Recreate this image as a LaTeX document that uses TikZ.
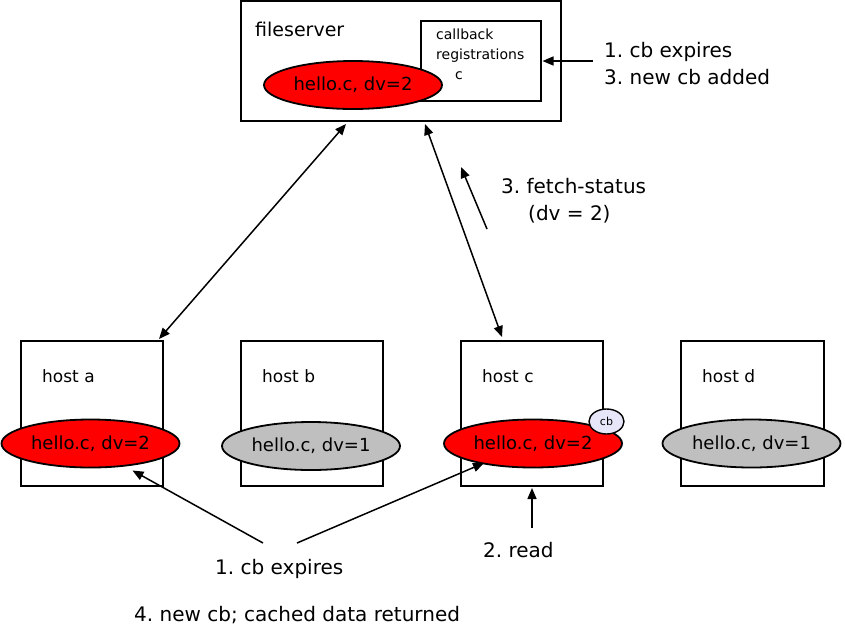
\documentclass[tikz,border=0pt]{standalone}
\usepackage{fontspec}
\setmainfont{DejaVu Sans}
\usetikzlibrary{shapes.geometric,arrows.meta,positioning}

\definecolor{cachered}{HTML}{FF0000}
\definecolor{cachegray}{HTML}{BFBFBF}
\definecolor{cbfill}{HTML}{E6E6F8}

\begin{document}
\frenchspacing
\begin{tikzpicture}[x=1pt,y=-1pt]
                \tikzset{Box/.style={draw,line width=2.2pt,inner sep=0pt,outer sep=0pt,anchor=north west},
                         File/.style={ellipse,draw,line width=1.8pt,minimum width=178pt,minimum height=48pt,inner sep=0pt,outer sep=0pt,font=\fontsize{18}{20}\selectfont},
                         NewFile/.style={File,fill=cachered},
                         OldFile/.style={File,fill=cachegray},
                         Label/.style={anchor=base west,inner sep=0pt,font=\fontsize{20}{24}\selectfont},
                         HostLabel/.style={anchor=base west,inner sep=0pt,font=\fontsize{17}{20}\selectfont},
                         Msg/.style={-{Triangle[length=11pt,width=9pt]},line width=1.5pt},
                         BiMsg/.style={{Triangle[length=11pt,width=9pt]}-{Triangle[length=11pt,width=9pt]},line width=1.5pt}}
                \useasboundingbox (0,0) rectangle (845,638);
                % server
                \node[Box,minimum width=320pt,minimum height=120pt] (fs) at (241,1) {};
                \node[anchor=base west,inner sep=0pt,font=\fontsize{19}{22}\selectfont] (fsname) at (255,36) {fileserver};
                \node[Box,minimum width=120pt,minimum height=80pt] (cbreg) at (421,21) {};
                \node[anchor=base west,inner sep=0pt,font=\fontsize{14}{16}\selectfont] (cbreg1) at (436,39) {callback};
                \node[anchor=base west,inner sep=0pt,font=\fontsize{14}{16}\selectfont] (cbreg2) at (436,59) {registrations};
                \node[anchor=base west,inner sep=0pt,font=\fontsize{14}{16}\selectfont] (cbreg3) at (455,79) {c};
                \node[NewFile] (ffs) at (353,85) {hello.c, dv=2};
                % hosts
                \node[Box,minimum width=142pt,minimum height=145pt] (ha) at (21,341) {};
                \node[Box,minimum width=142pt,minimum height=145pt] (hb) at (241,341) {};
                \node[Box,minimum width=142pt,minimum height=145pt] (hc) at (461,341) {};
                \node[Box,minimum width=143pt,minimum height=145pt] (hd) at (681,341) {};
                \node[HostLabel] (haname) at (42,382) {host a};
                \node[HostLabel] (hbname) at (262,382) {host b};
                \node[HostLabel] (hcname) at (482,382) {host c};
                \node[HostLabel] (hdname) at (702,382) {host d};
                \node[NewFile] (fa) at (90.5,443.5) {hello.c, dv=2};
                \node[OldFile] (fb) at (311,446) {hello.c, dv=1};
                \node[NewFile] (fc) at (533,443.5) {hello.c, dv=2};
                \node[OldFile] (fd) at (751.5,443.5) {hello.c, dv=1};
                \node[ellipse,draw,line width=1.4pt,fill=cbfill,minimum width=35pt,minimum height=25pt,inner sep=0pt,font=\fontsize{11}{13}\selectfont] (cbc) at (606.5,421.5) {cb};
                % labels
                \node[Label] (expsrv) at (604,57) {1. cb expires};
                \node[Label] (addsrv) at (604,84) {3. new cb added};
                \node[Label] (fetch) at (501,193) {3. fetch-status};
                \node[Label] (fetchdv) at (528,220) {(dv = 2)};
                \node[Label] (exphost) at (215,574) {1. cb expires};
                \node[Label] (read) at (483,557) {2. read};
                \node[Label] (newcb) at (134,621) {4. new cb; cached data returned};
                \coordinate (expL) at (263,543);
                \coordinate (expR) at (297,543);
                \coordinate (fetchA) at (487,229);
                \coordinate (fetchB) at (461,167);
                \coordinate (readA) at (532,528);
                % messages
                \draw[BiMsg] ([shift={(-55,3)}]fs.south) -- ([shift={(67,-2)}]ha.north);
                \draw[BiMsg] ([shift={(24,3)}]fs.south) -- ([shift={(-30,-4)}]hc.north);
                \draw[Msg] (fetchA) -- (fetchB);
                \draw[Msg] ([xshift=-11pt]expsrv.west |- cbreg.east) -- ([xshift=1.5pt]cbreg.east);
                \draw[Msg] (expL) -- ([shift={(42,27)}]fa.center);
                \draw[Msg] (expR) -- ([shift={(-49,19.5)}]fc.center);
                \draw[Msg] (readA) -- ([yshift=-2pt]hc.south);
            \end{tikzpicture}
\end{document}
